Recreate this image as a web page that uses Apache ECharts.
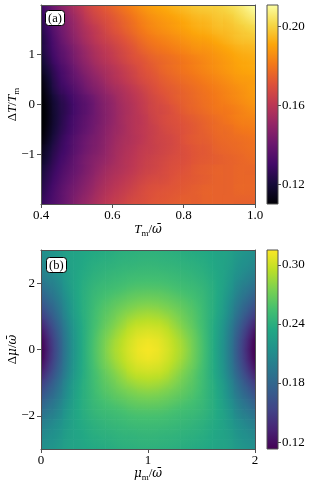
<!DOCTYPE html>
<html><head><meta charset="utf-8">
<script src="https://cdn.jsdelivr.net/npm/echarts@6/dist/echarts.min.js"></script>
<style>html,body{margin:0;padding:0;background:#fff}#c{width:311px;height:487px}</style>
</head><body><div id="c"></div><script>
// ---------- Panel (a) data: T_m/omega (columns) x DeltaT/T_m (rows, top to bottom) ----------
const aX = [0.415,0.445,0.475,0.505,0.535,0.565,0.595,0.625,0.655,0.685,0.715,0.745,0.775,0.805,0.835,0.865,0.895,0.925,0.955,0.985];
const aY = [1.9,1.7,1.5,1.3,1.1,0.9,0.7,0.5,0.3,0.1,-0.1,-0.3,-0.5,-0.7,-0.9,-1.1,-1.3,-1.5,-1.7,-1.9];
const aRows = [
 [0.133,0.143,0.151,0.158,0.165,0.170,0.174,0.178,0.182,0.186,0.189,0.191,0.193,0.195,0.197,0.198,0.199,0.201,0.204,0.208],
 [0.130,0.140,0.148,0.155,0.162,0.167,0.171,0.175,0.179,0.183,0.186,0.188,0.190,0.192,0.194,0.195,0.197,0.198,0.201,0.204],
 [0.128,0.138,0.146,0.153,0.159,0.164,0.169,0.173,0.177,0.181,0.184,0.186,0.188,0.190,0.192,0.193,0.195,0.196,0.198,0.200],
 [0.126,0.136,0.144,0.151,0.157,0.162,0.166,0.170,0.174,0.178,0.181,0.183,0.185,0.187,0.189,0.190,0.192,0.194,0.196,0.197],
 [0.125,0.134,0.141,0.148,0.154,0.159,0.163,0.167,0.171,0.175,0.178,0.180,0.182,0.184,0.186,0.187,0.189,0.191,0.193,0.194],
 [0.123,0.132,0.139,0.146,0.152,0.157,0.161,0.165,0.169,0.172,0.175,0.177,0.179,0.181,0.183,0.185,0.187,0.189,0.191,0.192],
 [0.120,0.129,0.136,0.143,0.149,0.154,0.158,0.162,0.166,0.170,0.173,0.176,0.178,0.180,0.182,0.184,0.186,0.188,0.190,0.191],
 [0.117,0.127,0.134,0.140,0.146,0.151,0.156,0.160,0.164,0.168,0.171,0.174,0.176,0.178,0.180,0.182,0.184,0.186,0.188,0.189],
 [0.115,0.125,0.131,0.137,0.143,0.148,0.153,0.157,0.161,0.165,0.169,0.172,0.174,0.176,0.178,0.180,0.182,0.184,0.186,0.188],
 [0.113,0.122,0.128,0.134,0.139,0.145,0.150,0.155,0.159,0.163,0.167,0.170,0.173,0.175,0.177,0.179,0.181,0.183,0.185,0.187],
 [0.112,0.121,0.127,0.133,0.138,0.144,0.149,0.154,0.158,0.162,0.166,0.168,0.171,0.174,0.176,0.178,0.180,0.181,0.183,0.185],
 [0.112,0.121,0.128,0.134,0.139,0.144,0.149,0.154,0.158,0.161,0.165,0.168,0.170,0.172,0.174,0.176,0.178,0.180,0.182,0.183],
 [0.113,0.122,0.129,0.135,0.140,0.145,0.150,0.154,0.158,0.161,0.164,0.167,0.169,0.171,0.173,0.175,0.177,0.178,0.180,0.181],
 [0.115,0.124,0.131,0.137,0.142,0.146,0.151,0.155,0.158,0.161,0.164,0.166,0.168,0.171,0.173,0.174,0.176,0.177,0.178,0.179],
 [0.118,0.126,0.132,0.138,0.143,0.147,0.152,0.156,0.159,0.162,0.164,0.166,0.168,0.170,0.172,0.173,0.175,0.176,0.177,0.178],
 [0.120,0.128,0.134,0.140,0.145,0.149,0.153,0.157,0.160,0.163,0.165,0.167,0.169,0.170,0.172,0.173,0.174,0.175,0.176,0.177],
 [0.123,0.130,0.136,0.141,0.146,0.151,0.155,0.158,0.161,0.164,0.166,0.168,0.170,0.171,0.173,0.174,0.175,0.175,0.176,0.176],
 [0.125,0.132,0.138,0.143,0.148,0.153,0.157,0.160,0.163,0.166,0.168,0.169,0.171,0.172,0.173,0.174,0.175,0.175,0.176,0.176],
 [0.127,0.134,0.140,0.145,0.150,0.155,0.159,0.162,0.165,0.168,0.170,0.171,0.172,0.173,0.174,0.175,0.175,0.175,0.176,0.176],
 [0.129,0.135,0.141,0.147,0.152,0.157,0.161,0.164,0.167,0.169,0.171,0.172,0.173,0.174,0.174,0.175,0.175,0.175,0.175,0.175]
];
const aXRange = [0.4, 1.0];
const aYRange = [-1.99, 1.99];
const aYTicks = [-1, 0, 1];
const aCbRange = [0.110, 0.211];
const aCbTicks = [0.12, 0.16, 0.20];

// ---------- Panel (b) data: mu_m/omega (columns) x Delta mu/omega (rows, top to bottom) ----------
const bX = [0.05,0.15,0.25,0.35,0.45,0.55,0.65,0.75,0.85,0.95,1.05,1.15,1.25,1.35,1.45,1.55,1.65,1.75,1.85,1.95];
const bY = [2.85,2.55,2.25,1.95,1.65,1.35,1.05,0.75,0.45,0.15,-0.15,-0.45,-0.75,-1.05,-1.35,-1.65,-1.95,-2.25,-2.55,-2.85];
const bRows = [
 [0.213,0.219,0.227,0.231,0.235,0.237,0.239,0.241,0.242,0.243,0.243,0.242,0.241,0.239,0.237,0.235,0.231,0.227,0.219,0.213],
 [0.209,0.216,0.226,0.232,0.237,0.240,0.242,0.244,0.245,0.246,0.246,0.245,0.244,0.242,0.240,0.237,0.232,0.226,0.216,0.209],
 [0.203,0.212,0.224,0.233,0.239,0.243,0.246,0.248,0.250,0.251,0.251,0.250,0.248,0.246,0.243,0.239,0.233,0.224,0.212,0.203],
 [0.194,0.205,0.222,0.234,0.242,0.247,0.250,0.253,0.256,0.257,0.257,0.256,0.253,0.250,0.247,0.242,0.234,0.222,0.205,0.194],
 [0.184,0.199,0.218,0.234,0.244,0.251,0.256,0.260,0.264,0.266,0.266,0.264,0.260,0.256,0.251,0.244,0.234,0.218,0.199,0.184],
 [0.173,0.191,0.214,0.233,0.245,0.255,0.262,0.268,0.273,0.276,0.276,0.273,0.268,0.262,0.255,0.245,0.233,0.214,0.191,0.173],
 [0.161,0.184,0.211,0.232,0.246,0.258,0.267,0.276,0.283,0.287,0.287,0.283,0.276,0.267,0.258,0.246,0.232,0.211,0.184,0.161],
 [0.147,0.175,0.205,0.229,0.246,0.260,0.272,0.283,0.293,0.297,0.297,0.293,0.283,0.272,0.260,0.246,0.229,0.205,0.175,0.147],
 [0.136,0.168,0.202,0.228,0.247,0.264,0.278,0.290,0.300,0.305,0.305,0.300,0.290,0.278,0.264,0.247,0.228,0.202,0.168,0.136],
 [0.129,0.164,0.200,0.227,0.248,0.266,0.282,0.294,0.304,0.310,0.310,0.304,0.294,0.282,0.266,0.248,0.227,0.200,0.164,0.129],
 [0.129,0.164,0.200,0.227,0.248,0.266,0.282,0.294,0.304,0.310,0.310,0.304,0.294,0.282,0.266,0.248,0.227,0.200,0.164,0.129],
 [0.136,0.168,0.202,0.228,0.247,0.264,0.278,0.290,0.300,0.305,0.305,0.300,0.290,0.278,0.264,0.247,0.228,0.202,0.168,0.136],
 [0.147,0.175,0.205,0.229,0.246,0.260,0.272,0.283,0.293,0.297,0.297,0.293,0.283,0.272,0.260,0.246,0.229,0.205,0.175,0.147],
 [0.161,0.184,0.211,0.232,0.246,0.258,0.267,0.276,0.283,0.287,0.287,0.283,0.276,0.267,0.258,0.246,0.232,0.211,0.184,0.161],
 [0.173,0.191,0.214,0.233,0.245,0.255,0.262,0.268,0.273,0.276,0.276,0.273,0.268,0.262,0.255,0.245,0.233,0.214,0.191,0.173],
 [0.184,0.199,0.218,0.234,0.244,0.251,0.256,0.260,0.264,0.266,0.266,0.264,0.260,0.256,0.251,0.244,0.234,0.218,0.199,0.184],
 [0.194,0.205,0.222,0.234,0.242,0.247,0.250,0.253,0.256,0.257,0.257,0.256,0.253,0.250,0.247,0.242,0.234,0.222,0.205,0.194],
 [0.203,0.212,0.224,0.233,0.239,0.243,0.246,0.248,0.250,0.251,0.251,0.250,0.248,0.246,0.243,0.239,0.233,0.224,0.212,0.203],
 [0.209,0.216,0.226,0.232,0.237,0.240,0.242,0.244,0.245,0.246,0.246,0.245,0.244,0.242,0.240,0.237,0.232,0.226,0.216,0.209],
 [0.213,0.219,0.227,0.231,0.235,0.237,0.239,0.241,0.242,0.243,0.243,0.242,0.241,0.239,0.237,0.235,0.231,0.227,0.219,0.213]
];
const bXRange = [0, 2];
const bYRange = [-3, 3];
const bYTicks = [-2, 0, 2];
const bCbRange = [0.113, 0.315];
const bCbTicks = [0.12, 0.18, 0.24, 0.30];

// ---------- colormaps ----------
const INFERNO = ['#000004','#160b39','#420a68','#6a176e','#932667','#bc3754','#dd513a','#f37819','#fca50a','#f6d746','#fcffa4'];
const VIRIDIS = ['#440154','#482475','#414487','#355f8d','#2a788e','#21918c','#22a884','#44bf70','#7ad151','#bddf26','#fde725'];

const FONT = 'Liberation Serif';
const AX = '#505050';

function makeColormap(hexes, range) {
  const rgb = hexes.map(h => [1, 3, 5].map(k => parseInt(h.substr(k, 2), 16)));
  const n = rgb.length - 1;
  return function (v) {
    let t = (v - range[0]) / (range[1] - range[0]);
    t = Math.max(0, Math.min(1, t));
    const k = Math.min(n - 1, Math.floor(t * n));
    const f = t * n - k;
    const c = rgb[k].map((a, q) => Math.round(a + (rgb[k + 1][q] - a) * f));
    return 'rgb(' + c.join(',') + ')';
  };
}
function toItems(xs, ys, rows) {
  const out = [];
  rows.forEach((r, i) => r.forEach((v, j) => out.push([xs[j], ys[i], v, i, j])));
  return out;
}
// each cell is drawn at its own position; its fill is shaded along the local gradient
function cellRenderer(xs, ys, rows, color) {
  const dx = xs[1] - xs[0], dy = ys[0] - ys[1];
  const nI = rows.length, nJ = rows[0].length;
  return function (params, api) {
    const x = api.value(0), y = api.value(1), v = api.value(2), i = api.value(3), j = api.value(4);
    const p0 = api.coord([x - dx / 2, y + dy / 2]);
    const p1 = api.coord([x + dx / 2, y - dy / 2]);
    const w = p1[0] - p0[0], h = p1[1] - p0[1];
    const jl = Math.max(0, j - 1), jr = Math.min(nJ - 1, j + 1);
    const iu = Math.max(0, i - 1), id = Math.min(nI - 1, i + 1);
    const Gx = (rows[i][jr] - rows[i][jl]) / (jr - jl) / w;
    const Gy = (rows[id][j] - rows[iu][j]) / (id - iu) / h;
    const G = Math.hypot(Gx, Gy);
    const cx = p0[0] + w / 2, cy = p0[1] + h / 2;
    let fill;
    if (G < 1e-12) {
      fill = color(v);
    } else {
      const ux = Gx / G, uy = Gy / G;
      const L = (w * Math.abs(ux) + h * Math.abs(uy)) / 2;
      const stops = [0, 0.25, 0.5, 0.75, 1].map(o => ({ offset: o, color: color(v + G * L * (2 * o - 1)) }));
      fill = new echarts.graphic.LinearGradient(cx - ux * L, cy - uy * L, cx + ux * L, cy + uy * L, stops, true);
    }
    const cs = params.coordSys;
    const shape = echarts.graphic.clipRectByRect(
      { x: p0[0], y: p0[1], width: w + 0.7, height: h + 0.7 },
      { x: cs.x, y: cs.y, width: cs.width, height: cs.height });
    return shape && { type: 'rect', shape: shape, style: { fill: fill } };
  };
}
function cbarRenderer(colors) {
  return function (params, api) {
    const p0 = api.coord([api.value(0), api.value(3)]);
    const p1 = api.coord([api.value(2), api.value(1)]);
    const stops = colors.map((c, k) => ({ offset: k / (colors.length - 1), color: c }));
    return {
      type: 'rect',
      shape: { x: p0[0], y: p0[1], width: p1[0] - p0[0], height: p1[1] - p0[1] },
      style: { fill: new echarts.graphic.LinearGradient(0, 1, 0, 0, stops), stroke: AX, lineWidth: 1 }
    };
  };
}
const minus = v => (v < 0 ? '\u2212' + Math.abs(v) : String(v));
const rich = {
  i: { fontFamily: FONT, fontStyle: 'italic', fontSize: 13, lineHeight: 16, color: '#000' },
  w: { fontFamily: 'DejaVu Serif', fontStyle: 'italic', fontSize: 12, lineHeight: 16, color: '#000' },
  n: { fontFamily: FONT, fontSize: 13, lineHeight: 16, color: '#000' },
  s: { fontFamily: FONT, fontSize: 9, lineHeight: 8, verticalAlign: 'bottom', color: '#000' }
};
const labelStyle = { fontFamily: FONT, fontSize: 13, color: '#000' };

function frameAxis(extra) {
  return Object.assign({
    type: 'value', z: 5, nameMoveOverlap: false,
    axisLine: { show: true, onZero: false, lineStyle: { color: AX, width: 1 } },
    axisTick: { show: false }, axisLabel: { show: false }, splitLine: { show: false }
  }, extra);
}
const tickStyle = vals => ({ show: true, length: 4, customValues: vals, lineStyle: { color: AX } });

const option = {
  animation: false,
  backgroundColor: '#fff',
  title: [
    { text: '(a)', left: 45, top: 10, padding: [2, 3, 1, 3], borderRadius: 3, borderColor: '#000', borderWidth: 1, backgroundColor: '#fff',
      textStyle: { fontFamily: FONT, fontSize: 12.5, fontWeight: 'normal', color: '#000' }, z: 10 },
    { text: '(b)', left: 46, top: 257, padding: [2, 3, 1, 3], borderRadius: 3, borderColor: '#000', borderWidth: 1, backgroundColor: '#fff',
      textStyle: { fontFamily: FONT, fontSize: 12.5, fontWeight: 'normal', color: '#000' }, z: 10 }
  ],
  grid: [
    { left: 41, top: 5, width: 214, height: 199, outerBoundsMode: 'none', containLabel: false },
    { left: 41, top: 250, width: 214, height: 199, outerBoundsMode: 'none', containLabel: false },
    { left: 267, top: 5, width: 11, height: 199, outerBoundsMode: 'none', containLabel: false },
    { left: 267, top: 250, width: 11, height: 199, outerBoundsMode: 'none', containLabel: false }
  ],
  xAxis: [
    frameAxis({ gridIndex: 0, position: 'bottom', min: aXRange[0], max: aXRange[1], interval: 0.2,
      axisTick: { show: true, length: 4, lineStyle: { color: AX } },
      axisLabel: Object.assign({ show: true, margin: 5, formatter: v => v.toFixed(1) }, labelStyle),
      name: '{i|T}{s|m}{n|/}{w|\u03c9\u0304}', nameLocation: 'middle', nameGap: 18, nameTextStyle: { rich: rich } }),
    frameAxis({ gridIndex: 0, position: 'top', min: aXRange[0], max: aXRange[1] }),
    frameAxis({ gridIndex: 1, position: 'bottom', min: bXRange[0], max: bXRange[1], interval: 1,
      axisTick: { show: true, length: 4, lineStyle: { color: AX } },
      axisLabel: Object.assign({ show: true, margin: 5, formatter: v => String(v) }, labelStyle),
      name: '{w|\u03bc}{s|m}{n|/}{w|\u03c9\u0304}', nameLocation: 'middle', nameGap: 17, nameTextStyle: { rich: rich } }),
    frameAxis({ gridIndex: 1, position: 'top', min: bXRange[0], max: bXRange[1] }),
    { gridIndex: 2, type: 'value', min: 0, max: 1, show: false },
    { gridIndex: 3, type: 'value', min: 0, max: 1, show: false }
  ],
  yAxis: [
    frameAxis({ gridIndex: 0, position: 'left', min: aYRange[0], max: aYRange[1],
      axisTick: tickStyle(aYTicks),
      axisLabel: Object.assign({ show: true, margin: 6, customValues: aYTicks, formatter: minus }, labelStyle),
      name: '{n|\u0394}{i|T}{n|/}{i|T}{s|m}', nameLocation: 'middle', nameRotate: 90, nameGap: 20, nameTextStyle: { rich: rich } }),
    frameAxis({ gridIndex: 0, position: 'right', min: aYRange[0], max: aYRange[1] }),
    frameAxis({ gridIndex: 1, position: 'left', min: bYRange[0], max: bYRange[1],
      axisTick: tickStyle(bYTicks),
      axisLabel: Object.assign({ show: true, margin: 6, customValues: bYTicks, formatter: minus }, labelStyle),
      name: '{n|\u0394}{w|\u03bc}{n|/}{w|\u03c9\u0304}', nameLocation: 'middle', nameRotate: 90, nameGap: 20, nameTextStyle: { rich: rich } }),
    frameAxis({ gridIndex: 1, position: 'right', min: bYRange[0], max: bYRange[1] }),
    { gridIndex: 2, type: 'value', position: 'right', min: aCbRange[0], max: aCbRange[1], z: 5,
      axisLine: { show: false, onZero: false }, splitLine: { show: false },
      axisTick: { show: true, length: 3, customValues: aCbTicks, lineStyle: { color: AX } },
      axisLabel: Object.assign({ margin: 4, customValues: aCbTicks, formatter: v => v.toFixed(2) }, labelStyle) },
    { gridIndex: 3, type: 'value', position: 'right', min: bCbRange[0], max: bCbRange[1], z: 5,
      axisLine: { show: false, onZero: false }, splitLine: { show: false },
      axisTick: { show: true, length: 3, customValues: bCbTicks, lineStyle: { color: AX } },
      axisLabel: Object.assign({ margin: 4, customValues: bCbTicks, formatter: v => v.toFixed(2) }, labelStyle) }
  ],
  series: [
    { type: 'custom', xAxisIndex: 0, yAxisIndex: 0, data: toItems(aX, aY, aRows), encode: { x: 0, y: 1 },
      renderItem: cellRenderer(aX, aY, aRows, makeColormap(INFERNO, aCbRange)) },
    { type: 'custom', xAxisIndex: 2, yAxisIndex: 2, data: toItems(bX, bY, bRows), encode: { x: 0, y: 1 },
      renderItem: cellRenderer(bX, bY, bRows, makeColormap(VIRIDIS, bCbRange)) },
    { type: 'custom', xAxisIndex: 4, yAxisIndex: 4, data: [[0, aCbRange[0], 1, aCbRange[1]]], encode: { x: [0, 2], y: [1, 3] },
      renderItem: cbarRenderer(INFERNO) },
    { type: 'custom', xAxisIndex: 5, yAxisIndex: 5, data: [[0, bCbRange[0], 1, bCbRange[1]]], encode: { x: [0, 2], y: [1, 3] },
      renderItem: cbarRenderer(VIRIDIS) }
  ]
};
const chart = echarts.init(document.getElementById('c'), null, { renderer: 'canvas' });
chart.setOption(option);
</script></body></html>
